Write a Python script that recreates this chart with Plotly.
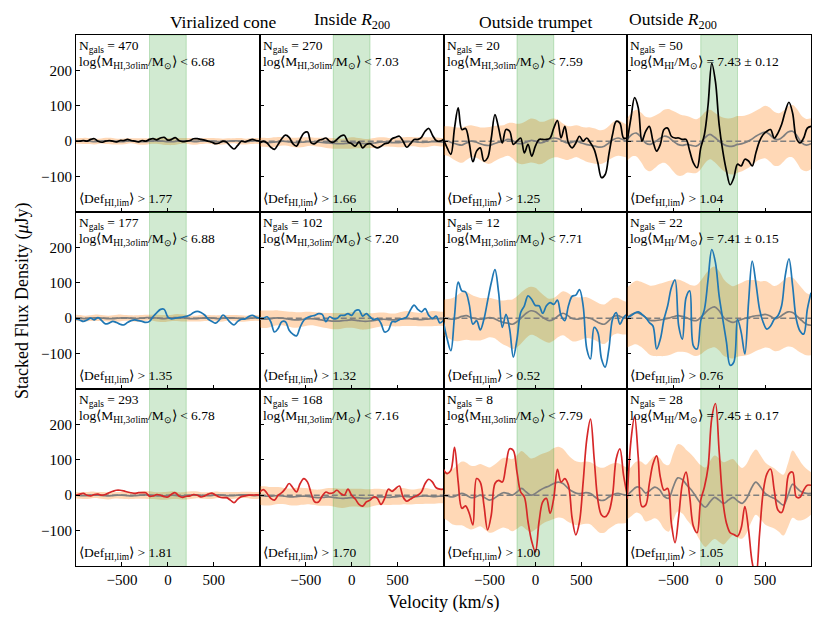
import plotly.graph_objects as go
from plotly.subplots import make_subplots

FONT = "Liberation Serif"

# velocity grids (km/s)
vel = list(range(-1000, 1001, 40))        # stacked spectra
vel_ctrl = list(range(-1000, 1001, 50))   # control stacks and scatter band
v_window = [-200, 200]                    # green integration window
x_range = [-1000, 1000]
y_range = [-200, 300]

col_titles = ["Virialized cone", "Inside <i>R</i><sub>200</sub>",
              "Outside trumpet", "Outside <i>R</i><sub>200</sub>"]
line_colors = ["black", "#1f77b4", "#d62728"]

n_gals = [[470, 270, 20, 50],
          [177, 102, 12, 22],
          [293, 168, 8, 28]]
log_mhi = [["6.68", "7.03", "7.59", "7.43 ± 0.12"],
           ["6.88", "7.20", "7.71", "7.41 ± 0.15"],
           ["6.78", "7.16", "7.79", "7.45 ± 0.17"]]
def_hi = [["1.77", "1.66", "1.25", "1.04"],
          ["1.35", "1.32", "0.52", "0.76"],
          ["1.81", "1.70", "1.00", "1.05"]]

# stacked flux density (uJy), one list per panel, on vel
stack_r1c1 = [0, 0, 2, 0, 5, 7, 0, -3, 0, 2, 0, -2, 2, 2, 5, 2, 0, -2, 2, 0, 5, 7, 4, 9, 11, 3,
              5, 10, 2, -1, 0, 2, 7, 7, 5, 3, 0, -3, -7, -5, 0, -3, -14, -22, -12, 0, -2, 2, 5, 2, 0]
stack_r1c2 = [-5, 0, -5, -17, -23, -9, 7, 17, 11, -7, -14, 5, 23, 26, -5, -7, 2, 5, 9, 0, -3, 5, 14, 17,
              -2, -7, -14, -2, -19, -9, -7, -14, -19, -14, -7, -5, 7, 11, 14, 0, -17, -7, 5, 5, 11, 28,
              36, 17, 2, 0, 5]
stack_r1c3 = [5, -19, -37, 37, 94, 33, 36, -5, -58, -28, -19, -56, -47, 9, 75, 37, -5, 33, 28, -9, 0, 9,
              -33, -9, -42, -14, 5, 5, 5, 9, 37, 58, 9, 42, -5, -19, -5, 14, 0, 9, -5, -23, -61, -103,
              -94, -37, 19, 56, 51, 9, 9]
stack_r1c4 = [0, 65, 123, 94, 0, 28, 42, 0, -28, -9, 33, 37, 14, 9, 9, 5, 5, -28, -61, -75, -19, 19, 103,
              220, 168, 47, -28, -84, -123, -103, -65, -70, -51, -56, -70, -33, 0, 19, 28, 33, 9, 23, 47,
              84, 110, 79, 9, -5, 9, 37, 42]
stack_r2c1 = [-3, -5, -9, -5, 0, -5, 2, -7, -16, -14, -9, -12, -17, -19, -12, -7, -5, -7, -9, -12, -9, 5,
              16, 25, 25, 3, -2, 0, 2, 3, 5, 9, 16, 19, 16, 9, -3, -9, -14, -5, 9, 0, -12, -19, -9, -3,
              -2, 5, 8, 3, 0]
stack_r2c2 = [0, 0, 4, -10, -39, -29, -10, -10, -34, -45, -50, -25, -6, 2, 6, 8, 13, 11, -10, 4, -1, -1,
              8, 8, 13, 8, 21, 23, 6, 13, 4, -4, -1, -15, -39, -34, -10, -10, -4, -1, 4, 23, 37, 25, 18,
              27, 8, -1, 6, -13, -6]
stack_r2c3 = [-12, -59, -92, 7, 102, 77, 74, 39, -17, -7, -33, -3, 49, 100, 137, 72, -26, 11, -31, -110,
              -59, 16, 35, 63, 53, 36, 35, 14, 35, 44, 39, 51, 7, -7, 35, 62, 65, 81, 35, -87, -115, -26,
              -40, -115, -138, -87, -3, 16, -17, 2, 11]
stack_r2c4 = [2, 7, 14, 18, 11, 2, -12, -22, -87, -59, -3, 35, 86, 108, -22, -59, 58, 77, -78, -87, -7,
              25, 110, 194, 157, 63, -3, -68, -133, -124, -3, -40, -101, 44, 161, 100, 25, -12, -31, -22,
              -3, 7, 35, 121, 168, 91, -3, -36, -45, 25, 72]
stack_r3c1 = [0, 3, 5, 0, -2, 2, 3, 0, 2, 7, 11, 14, 14, 12, 9, 7, 5, 7, 7, 7, -3, -2, 2, 0, -4, -5, 3, 7,
              -2, -6, -3, -2, 2, 0, -5, -2, 3, 6, 0, -5, -7, -7, -14, -21, -11, -4, -2, 0, 0, 1, 0]
stack_r3c2 = [9, 16, 5, -9, -14, 0, 7, 19, 33, 21, 9, 33, 47, 37, 5, -19, -19, -2, 9, 5, 7, 14, 5, 0, 17,
              0, -11, -26, -31, -19, -14, -5, -9, -26, -9, 17, 11, 19, 26, -5, -17, -11, -5, 0, 9, 33, 45,
              37, 21, 17, 17]
stack_r3c3 = [73, 61, 70, 135, 37, -37, -30, -51, -84, 47, 37, -28, -98, -56, 33, 42, 37, 84, 131, 126,
              65, 9, -5, -75, -130, -160, -75, -19, -9, -51, -9, 73, 37, 47, 28, -65, -112, -75, 37, 159,
              215, 103, -14, -56, -61, -47, 0, 103, 131, 56, 0]
stack_r3c4 = [-10, 153, 222, 106, -32, -28, 32, 88, 111, 51, 14, 19, -79, -134, -60, 32, 65, -5, -88,
              -106, -14, 23, 79, 218, 259, 125, -14, -79, -106, -111, -116, -93, -32, -97, -190, -230,
              -110, 10, 60, 74, 14, -42, -49, -14, 60, 65, -5, -6, 14, 28, 28]

# control stacks (grey line) on vel_ctrl
ctrl_r1c1 = [0, 1, 1, 0, -1, 0, 1, 1, 0, -1, -1, 0, 1, 0, -1, -1, 0, 1, 1, 0, -1, -1, 0, 1, 1, 0, -1, 0,
             1, 1, 0, -1, -1, 0, 1, 1, 0, -1, 0, 1, 0]
ctrl_r1c2 = [-2, -3, -4, -3, -1, 0, -1, -3, -4, -3, -2, -1, -2, -3, -4, -5, -6, -7, -7, -6, -5, -5, -6,
             -7, -6, -5, -3, -2, -3, -4, -4, -3, -2, -1, -2, -3, -3, -2, -1, -2, -3]
ctrl_r1c3 = [2, 0, -5, -9, -11, -5, 0, -2, -7, -11, -12, -7, -3, 0, 5, 2, -6, -7, -3, 2, 0, -5, -2, 5, 9,
             7, 0, -5, -3, 0, -5, -9, -11, -14, -17, -14, -5, 5, 9, 5, 0]
ctrl_r1c4 = [5, 19, 23, 11, -5, -9, -2, 7, 14, 11, 0, -9, -12, -9, -12, -14, -5, 11, 19, 11, 0, -9, -14,
             -14, -9, -7, -2, 5, 14, 21, 26, 19, 7, 5, 14, 26, 28, 14, -5, -11, -7]
ctrl_r2c1 = [1, 0, -1, 0, 1, 1, 0, -1, -1, 0, 1, 1, 0, -1, 0, 1, 2, 1, 0, -1, 0, 1, 2, 1, 0, -1, -1, 0, 1,
             1, 0, -1, 0, 1, 1, 0, -1, -1, 0, 1, 0]
ctrl_r2c2 = [-2, -3, -2, 0, 1, 0, -2, -4, -5, -4, -2, -1, -2, -4, -6, -7, -8, -8, -7, -6, -5, -6, -8, -9,
             -8, -6, -4, -3, -4, -5, -4, -2, -1, -2, -3, -4, -3, -2, -1, -1, -2]
ctrl_r2c3 = [2, -1, -3, 0, 5, 7, 2, -1, -3, -1, 2, -1, -7, -12, -14, -17, -10, 2, 14, 21, 18, 8, -1, -7,
             -3, 7, 14, 8, -1, -3, -1, 2, -1, -7, -14, -17, -7, 5, 7, 2, 0]
ctrl_r2c4 = [2, 11, 16, 11, 2, -6, -7, -5, -3, 0, 4, 7, 5, 1, -5, -7, 2, 16, 27, 32, 21, 2, -7, -12, -7,
             -3, 1, 4, 7, 8, 11, 7, -1, 2, 11, 18, 16, 5, -7, -17, -20]
ctrl_r3c1 = [0, -1, -1, 0, 1, 0, -1, -2, -1, 0, 0, -1, -2, -1, 0, 1, 0, -1, -2, -2, -1, 0, -1, -2, -1, 0,
             1, 0, -1, -1, 0, 1, 0, -1, -1, 0, 1, 1, 0, -1, 0]
ctrl_r3c2 = [-1, -2, -3, -2, -1, -2, -4, -5, -4, -3, -3, -4, -6, -7, -6, -5, -6, -8, -9, -8, -7, -7, -8,
             -9, -8, -6, -5, -5, -6, -5, -4, -3, -4, -5, -4, -3, -2, -3, -4, -3, -3]
ctrl_r3c3 = [0, -3, -5, 0, 5, 0, -7, -5, 0, -7, -14, -9, 0, 7, 5, 0, 9, 19, 9, 0, 5, 14, 21, 26, 33, 37,
             33, 21, 11, 5, 5, 7, 5, -5, -14, -14, -5, 2, 5, 2, 0]
ctrl_r3c4 = [0, 12, 23, 20, 6, 14, 23, 16, -3, -9, 23, 49, 44, 28, 14, -5, -23, -34, -19, -6, -14, -23,
             -14, -6, -16, -23, -9, 19, 37, 23, 5, -3, -9, -19, -28, 0, 31, 19, 9, 5, 5]

# 1-sigma scatter of the control stacks (orange band half width) on vel_ctrl
sig_r1c1 = [8, 8, 9, 8, 8, 7, 8, 9, 9, 8, 8, 8, 7, 8, 9, 9, 8, 8, 9, 10, 10, 10, 9, 8, 8, 9, 9, 8, 8, 8,
            9, 9, 8, 8, 7, 8, 9, 8, 8, 8, 8]
sig_r1c2 = [12, 13, 13, 14, 13, 12, 12, 13, 14, 14, 13, 12, 12, 13, 14, 15, 15, 14, 14, 15, 16, 15, 14,
            13, 13, 14, 14, 13, 12, 12, 13, 14, 14, 13, 13, 14, 14, 13, 12, 12, 12]
sig_r1c3 = [40, 42, 45, 48, 50, 48, 45, 44, 46, 50, 52, 50, 47, 45, 46, 50, 55, 58, 60, 62, 62, 60, 58,
            56, 55, 53, 50, 48, 46, 45, 46, 48, 50, 50, 48, 47, 48, 50, 50, 48, 46]
sig_r1c4 = [60, 62, 66, 70, 74, 76, 74, 72, 75, 80, 85, 88, 85, 80, 78, 76, 74, 72, 70, 70, 72, 75, 78,
            80, 80, 78, 76, 74, 72, 72, 74, 76, 76, 74, 72, 72, 74, 76, 76, 74, 72]
sig_r2c1 = [9, 9, 8, 8, 9, 9, 8, 8, 9, 10, 9, 8, 8, 9, 9, 9, 8, 9, 10, 10, 9, 9, 10, 10, 9, 8, 8, 9, 9, 8,
            8, 9, 9, 8, 8, 9, 9, 8, 8, 8, 8]
sig_r2c2 = [24, 25, 24, 22, 21, 20, 21, 22, 22, 21, 20, 19, 19, 20, 21, 22, 23, 23, 22, 21, 22, 23, 24,
            23, 22, 21, 20, 19, 18, 18, 19, 20, 21, 20, 19, 19, 20, 21, 21, 20, 20]
sig_r2c3 = [50, 55, 60, 65, 68, 68, 65, 62, 60, 58, 56, 55, 58, 62, 66, 70, 72, 72, 70, 68, 68, 66, 64,
            62, 60, 60, 62, 64, 64, 62, 60, 58, 56, 55, 55, 56, 55, 52, 50, 48, 46]
sig_r2c4 = [85, 88, 90, 92, 95, 98, 100, 102, 104, 105, 104, 102, 100, 98, 98, 100, 104, 108, 112, 114,
            112, 108, 104, 102, 102, 104, 106, 104, 100, 96, 94, 92, 92, 94, 96, 98, 98, 96, 92, 88, 85]
sig_r3c1 = [9, 9, 10, 10, 9, 9, 10, 10, 9, 9, 10, 10, 9, 9, 10, 11, 11, 10, 10, 11, 11, 11, 10, 10, 11,
            11, 10, 9, 9, 10, 10, 9, 9, 10, 10, 9, 9, 9, 10, 10, 10]
sig_r3c2 = [26, 27, 26, 25, 24, 23, 23, 24, 25, 24, 23, 22, 22, 23, 24, 25, 26, 27, 27, 26, 25, 25, 26,
            26, 25, 24, 23, 22, 22, 22, 23, 23, 22, 21, 21, 22, 22, 21, 20, 20, 20]
sig_r3c3 = [65, 70, 78, 85, 90, 92, 90, 88, 88, 90, 92, 94, 96, 98, 100, 102, 104, 106, 106, 104, 102,
            100, 98, 98, 100, 100, 98, 95, 92, 90, 88, 88, 88, 90, 92, 92, 90, 88, 85, 82, 78]
sig_r3c4 = [68, 70, 72, 75, 80, 85, 88, 90, 92, 94, 95, 95, 96, 98, 100, 104, 108, 112, 115, 118, 118,
            116, 112, 108, 104, 100, 98, 95, 92, 90, 88, 86, 85, 84, 86, 90, 95, 90, 80, 70, 60]

stacks = [[stack_r1c1, stack_r1c2, stack_r1c3, stack_r1c4],
          [stack_r2c1, stack_r2c2, stack_r2c3, stack_r2c4],
          [stack_r3c1, stack_r3c2, stack_r3c3, stack_r3c4]]
ctrls = [[ctrl_r1c1, ctrl_r1c2, ctrl_r1c3, ctrl_r1c4],
         [ctrl_r2c1, ctrl_r2c2, ctrl_r2c3, ctrl_r2c4],
         [ctrl_r3c1, ctrl_r3c2, ctrl_r3c3, ctrl_r3c4]]
sigs = [[sig_r1c1, sig_r1c2, sig_r1c3, sig_r1c4],
        [sig_r2c1, sig_r2c2, sig_r2c3, sig_r2c4],
        [sig_r3c1, sig_r3c2, sig_r3c3, sig_r3c4]]

fig = make_subplots(rows=3, cols=4, shared_xaxes=True, shared_yaxes=True,
                    horizontal_spacing=0, vertical_spacing=0)

for r in range(3):
    for c in range(4):
        ctrl = ctrls[r][c]
        sig = sigs[r][c]
        upper = [g + s for g, s in zip(ctrl, sig)]
        lower = [g - s for g, s in zip(ctrl, sig)]
        rc = dict(row=r + 1, col=c + 1)
        fig.add_trace(go.Scatter(x=vel_ctrl, y=upper, mode="lines",
                                 line=dict(width=0, shape="spline"), hoverinfo="skip"), **rc)
        fig.add_trace(go.Scatter(x=vel_ctrl, y=lower, mode="lines", fill="tonexty",
                                 fillcolor="rgba(255,127,14,0.3)",
                                 line=dict(width=0, shape="spline"), hoverinfo="skip"), **rc)
        # velocity window
        fig.add_trace(go.Scatter(x=[v_window[0], v_window[0], v_window[1], v_window[1]],
                                 y=[y_range[0], y_range[1], y_range[1], y_range[0]],
                                 mode="lines", fill="toself", fillcolor="rgba(44,160,44,0.22)",
                                 line=dict(width=1, color="rgba(44,160,44,0.25)"), hoverinfo="skip"), **rc)
        # zero level
        fig.add_trace(go.Scatter(x=x_range, y=[0, 0], mode="lines",
                                 line=dict(color="#7f7f7f", width=1.5, dash="6px,3px")), **rc)
        fig.add_trace(go.Scatter(x=vel_ctrl, y=ctrl, mode="lines",
                                 line=dict(color="#7f7f7f", width=1.7, shape="spline")), **rc)
        fig.add_trace(go.Scatter(x=vel, y=stacks[r][c], mode="lines",
                                 line=dict(color=line_colors[r], width=1.7, shape="spline")), **rc)

        if c < 3:
            mtxt = "log⟨M<sub>HI,3σlim</sub>/M<sub>⊙</sub>⟩ &lt; " + log_mhi[r][c]
        else:
            mtxt = "log⟨M<sub>HI</sub>/M<sub>⊙</sub>⟩ = " + log_mhi[r][c]
        ax = "" if (r == 0 and c == 0) else str(r * 4 + c + 1)
        common = dict(xref="x%s domain" % ax, yref="y%s domain" % ax, x=0, xshift=1,
                      xanchor="left", showarrow=False,
                      font=dict(family=FONT, size=13.5, color="black"))
        fig.add_annotation(text="N<sub>gals</sub> = %d" % n_gals[r][c], y=1, yanchor="top",
                           yshift=-1, **common)
        fig.add_annotation(text=mtxt, y=1, yanchor="top", yshift=-17, **common)
        fig.add_annotation(text="⟨Def<sub>HI,lim</sub>⟩ &gt; " + def_hi[r][c], y=0,
                           yanchor="bottom", yshift=2, **common)

for c, t in enumerate(col_titles):
    fig.add_annotation(text=t, xref="paper", yref="paper", x=(c + 0.5) / 4, y=1,
                       yanchor="bottom", yshift=1, showarrow=False,
                       font=dict(family=FONT, size=17.5, color="black"))

fig.add_annotation(text="Velocity (km/s)", xref="paper", yref="paper", x=0.5, y=0,
                   yanchor="top", yshift=-24, showarrow=False,
                   font=dict(family=FONT, size=18, color="black"))
fig.add_annotation(text="Stacked Flux Density (<i>μ</i>Jy)", xref="paper", yref="paper",
                   x=0, y=0.5, xanchor="right", xshift=-41, textangle=-90, showarrow=False,
                   font=dict(family=FONT, size=18, color="black"))

fig.update_xaxes(range=x_range, tickvals=[-500, 0, 500], ticks="inside", ticklen=4,
                 tickcolor="black", showline=True, linecolor="black", linewidth=1, mirror=True,
                 showgrid=False, zeroline=False,
                 tickfont=dict(family=FONT, size=15, color="black"))
fig.update_yaxes(range=y_range, tickvals=[-100, 0, 100, 200], ticks="inside", ticklen=4,
                 tickcolor="black", showline=True, linecolor="black", linewidth=1, mirror=True,
                 showgrid=False, zeroline=False,
                 tickfont=dict(family=FONT, size=15, color="black"))

# the page body adds an 8 px offset, so the figure is a little smaller than the window
fig.update_layout(width=822, height=615, showlegend=False,
                  margin=dict(l=68, r=19, t=27, b=57),
                  paper_bgcolor="white", plot_bgcolor="white",
                  font=dict(family=FONT, color="black"))

fig.write_html("out.html")
